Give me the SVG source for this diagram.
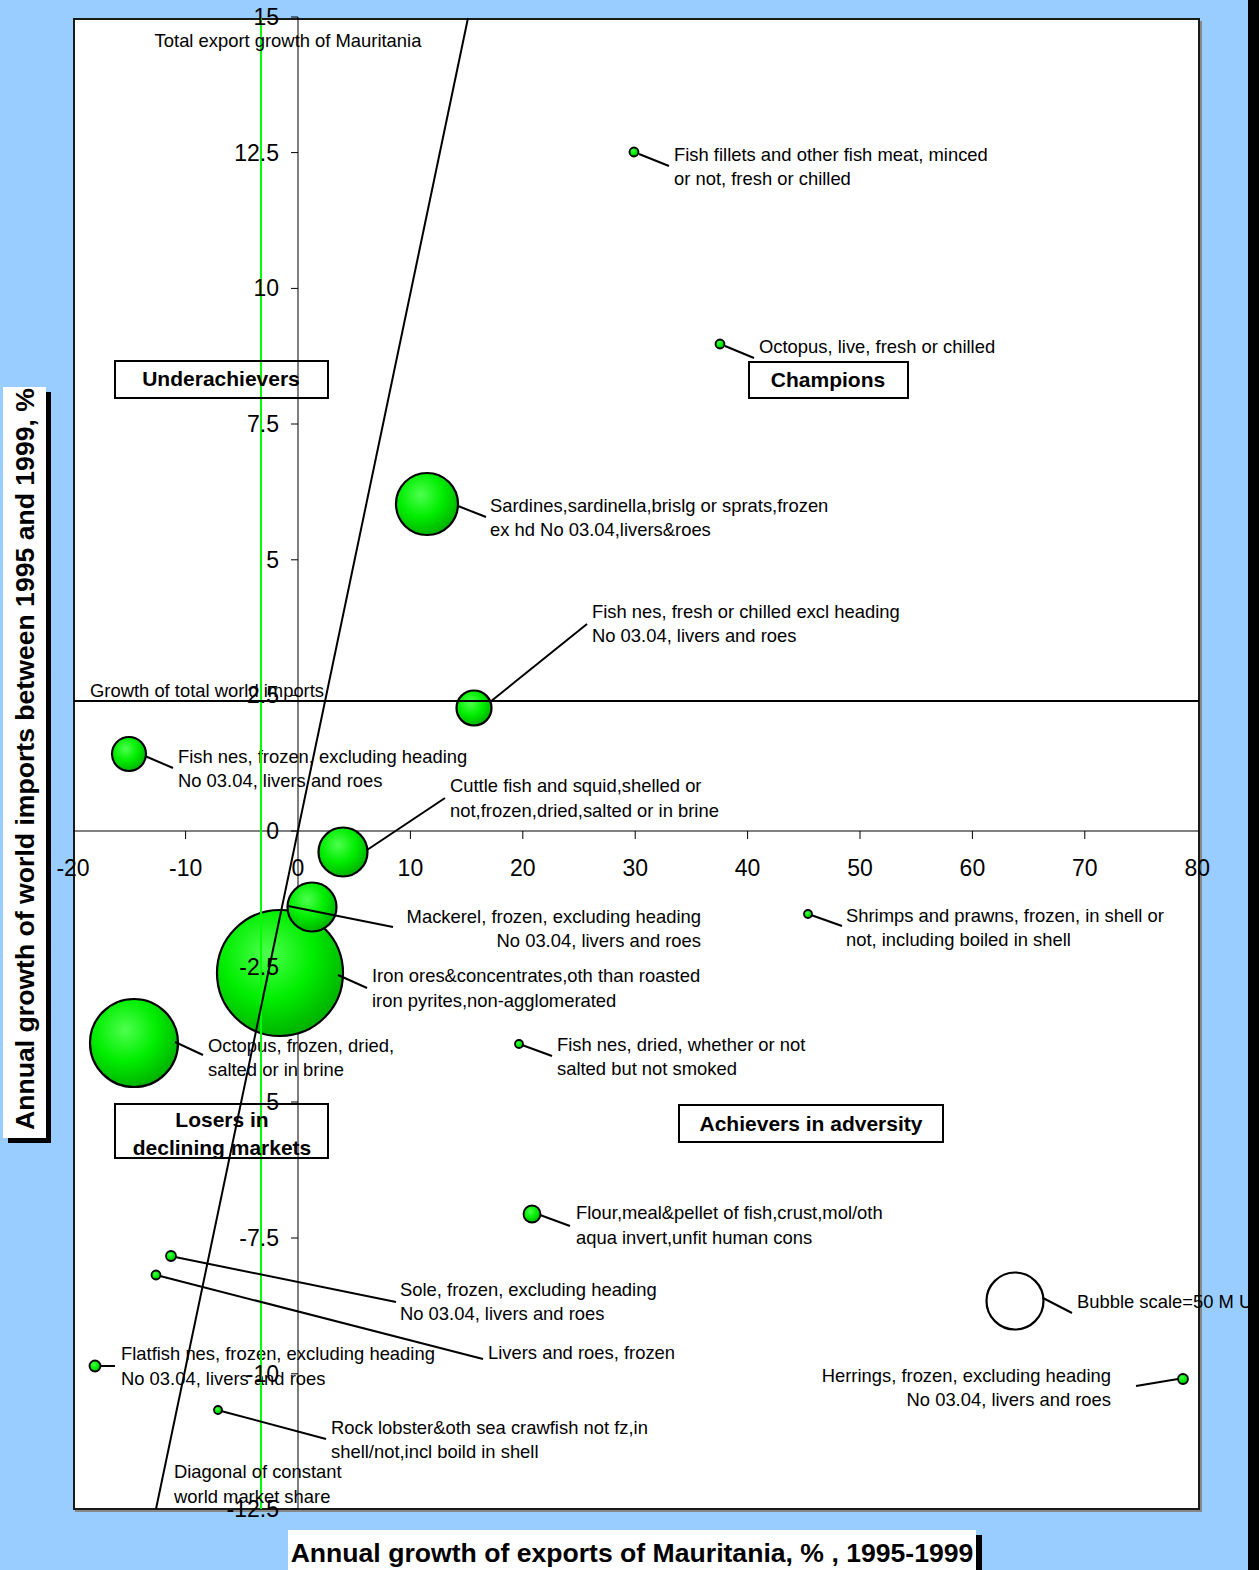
<svg xmlns="http://www.w3.org/2000/svg" width="1259" height="1570" viewBox="0 0 1259 1570">
<defs>
<radialGradient id="gb" cx="0.4" cy="0.35" r="0.65">
<stop offset="0" stop-color="#4dff4d"/>
<stop offset="0.55" stop-color="#00ee00"/>
<stop offset="1" stop-color="#00b400"/>
</radialGradient>
<style>
text{font-family:"Liberation Sans",Arial,sans-serif;fill:#000}
.lbl{font-size:18.4px}
.tky{font-size:23px;text-anchor:end}
.tkx{font-size:23px;text-anchor:middle}
.bx{fill:none;stroke:#000;stroke-width:2}
.bxt{font-size:21px;font-weight:bold;text-anchor:middle}
.ttl{font-size:26.6px;font-weight:bold;text-anchor:middle}
.bub{fill:url(#gb);stroke:#000;stroke-width:2.2}
.sm{fill:url(#gb);stroke:#000;stroke-width:1.8}
.ld{stroke:#000;stroke-width:2;fill:none}
.ax{stroke:#000;stroke-width:1;fill:none}
</style>
</defs>
<rect x="0" y="0" width="1259" height="1570" fill="#99ccff"/>
<rect x="1248" y="0" width="11" height="1570" fill="#000"/>
<g id="plot-area">
<rect x="75" y="21" width="1127" height="1491" fill="#888"/>
<rect x="74" y="19" width="1125" height="1490" fill="#fff" stroke="#1a1a1a" stroke-width="2"/>
</g>
<g id="axes">
<line class="ax" x1="298" y1="17" x2="298" y2="1509"/>
<line class="ax" x1="73" y1="831" x2="1199" y2="831"/>
<g class="ax">
<line x1="291" y1="17" x2="298" y2="17"/>
<line x1="291" y1="152.6" x2="298" y2="152.6"/>
<line x1="291" y1="288.4" x2="298" y2="288.4"/>
<line x1="291" y1="424" x2="298" y2="424"/>
<line x1="291" y1="559.8" x2="298" y2="559.8"/>
<line x1="291" y1="695.4" x2="298" y2="695.4"/>
<line x1="291" y1="831" x2="298" y2="831"/>
<line x1="291" y1="966.6" x2="298" y2="966.6"/>
<line x1="291" y1="1102" x2="298" y2="1102"/>
<line x1="291" y1="1238" x2="298" y2="1238"/>
<line x1="291" y1="1373.8" x2="298" y2="1373.8"/>
<line x1="291" y1="1509" x2="298" y2="1509"/>
<line x1="185.6" y1="831" x2="185.6" y2="839"/>
<line x1="410.4" y1="831" x2="410.4" y2="839"/>
<line x1="522.8" y1="831" x2="522.8" y2="839"/>
<line x1="635.2" y1="831" x2="635.2" y2="839"/>
<line x1="747.6" y1="831" x2="747.6" y2="839"/>
<line x1="860" y1="831" x2="860" y2="839"/>
<line x1="972.4" y1="831" x2="972.4" y2="839"/>
<line x1="1084.8" y1="831" x2="1084.8" y2="839"/>
</g>
</g>
<g id="n-fish-fillets"><circle class="sm" cx="634" cy="152" r="4.5"/><text class="lbl" x="674" y="161">Fish fillets and other fish meat, minced</text><text class="lbl" x="674" y="185">or not, fresh or chilled</text></g>
<g id="n-octopus-live"><circle class="sm" cx="720" cy="344" r="4.5"/><text class="lbl" x="759" y="353">Octopus, live, fresh or chilled</text></g>
<g id="n-sardines"><circle class="bub" cx="427" cy="504" r="31"/><text class="lbl" x="490" y="512">Sardines,sardinella,brislg or sprats,frozen</text><text class="lbl" x="490" y="536">ex hd No 03.04,livers&amp;roes</text></g>
<g id="n-fish-fresh"><circle class="bub" cx="474" cy="708" r="17.5"/><text class="lbl" x="592" y="618">Fish nes, fresh or chilled excl heading</text><text class="lbl" x="592" y="642">No 03.04, livers and roes</text></g>
<g id="n-fish-frozen"><circle class="bub" cx="129" cy="754" r="17"/><text class="lbl" x="178" y="763">Fish nes, frozen, excluding heading</text><text class="lbl" x="178" y="787">No 03.04, livers and roes</text></g>
<g id="n-cuttle"><circle class="bub" cx="343" cy="852" r="24.5"/><text class="lbl" x="450" y="792">Cuttle fish and squid,shelled or</text><text class="lbl" x="450" y="817">not,frozen,dried,salted or in brine</text></g>
<g id="n-iron"><circle class="bub" cx="280" cy="973" r="63"/><text class="lbl" x="372" y="982">Iron ores&amp;concentrates,oth than roasted</text><text class="lbl" x="372" y="1007">iron pyrites,non-agglomerated</text></g>
<g id="n-mackerel"><circle class="bub" cx="312" cy="907" r="24.5"/><text class="lbl" x="701" y="923" text-anchor="end">Mackerel, frozen, excluding heading</text><text class="lbl" x="701" y="947" text-anchor="end">No 03.04, livers and roes</text></g>
<g id="n-octopus-frozen"><circle class="bub" cx="134" cy="1043" r="44"/><text class="lbl" x="208" y="1052">Octopus, frozen, dried,</text><text class="lbl" x="208" y="1076">salted or in brine</text></g>
<g id="n-fish-dried"><circle class="sm" cx="519" cy="1044" r="4"/><text class="lbl" x="557" y="1051">Fish nes, dried, whether or not</text><text class="lbl" x="557" y="1075">salted but not smoked</text></g>
<g id="n-flour"><circle class="sm" cx="532" cy="1214" r="8.5"/><text class="lbl" x="576" y="1219">Flour,meal&amp;pellet of fish,crust,mol/oth</text><text class="lbl" x="576" y="1244">aqua invert,unfit human cons</text></g>
<g id="n-shrimps"><circle class="sm" cx="808" cy="914" r="4"/><text class="lbl" x="846" y="922">Shrimps and prawns, frozen, in shell or</text><text class="lbl" x="846" y="946">not, including boiled in shell</text></g>
<g id="n-sole"><circle class="sm" cx="171" cy="1256" r="5"/><text class="lbl" x="400" y="1296">Sole, frozen, excluding heading</text><text class="lbl" x="400" y="1320">No 03.04, livers and roes</text></g>
<g id="n-livers"><circle class="sm" cx="156" cy="1275" r="4.5"/><text class="lbl" x="488" y="1359">Livers and roes, frozen</text></g>
<g id="n-flatfish"><circle class="sm" cx="95" cy="1366" r="5.5"/><text class="lbl" x="121" y="1360">Flatfish nes, frozen, excluding heading</text><text class="lbl" x="121" y="1385">No 03.04, livers and roes</text></g>
<g id="n-rock-lobster"><circle class="sm" cx="218" cy="1410" r="4"/><text class="lbl" x="331" y="1434">Rock lobster&amp;oth sea crawfish not fz,in</text><text class="lbl" x="331" y="1458">shell/not,incl boild in shell</text></g>
<g id="n-herrings"><circle class="sm" cx="1183" cy="1379" r="5"/><text class="lbl" x="1111" y="1382" text-anchor="end">Herrings, frozen, excluding heading</text><text class="lbl" x="1111" y="1406" text-anchor="end">No 03.04, livers and roes</text></g>
<g id="n-bubble-scale"><circle cx="1015" cy="1301" r="28.5" fill="#fff" stroke="#000" stroke-width="2.2"/><text class="lbl" x="1077" y="1308">Bubble scale=50 M U</text></g>
<g id="reference-lines">
<line x1="261" y1="17" x2="261" y2="1509" stroke="#00ff00" stroke-width="2"/>
<line x1="468" y1="18" x2="156" y2="1509" stroke="#000" stroke-width="2"/>
<line x1="74" y1="701" x2="1199" y2="701" stroke="#000" stroke-width="2"/>
<text class="lbl" x="288" y="47" text-anchor="middle">Total export growth of Mauritania</text>
<text class="lbl" x="90" y="697">Growth of total world imports</text>
<text class="lbl" x="174" y="1478">Diagonal of constant</text>
<text class="lbl" x="174" y="1503">world market share</text>
</g>
<g id="connectors" class="ld">
<line x1="639" y1="154" x2="669" y2="166"/>
<line x1="725" y1="346" x2="754" y2="358"/>
<line x1="458" y1="506" x2="486" y2="517"/>
<line x1="490" y1="702" x2="587" y2="624"/>
<line x1="145" y1="756" x2="173" y2="768"/>
<line x1="367" y1="850" x2="445" y2="798"/>
<line x1="288" y1="906" x2="393" y2="927"/>
<line x1="338" y1="975" x2="367" y2="988"/>
<line x1="175" y1="1042" x2="203" y2="1055"/>
<line x1="522" y1="1045" x2="552" y2="1056"/>
<line x1="540" y1="1215" x2="570" y2="1226"/>
<line x1="811" y1="915" x2="842" y2="926"/>
<line x1="175" y1="1257" x2="396" y2="1302"/>
<line x1="160" y1="1276" x2="483" y2="1359"/>
<line x1="100" y1="1366" x2="115" y2="1366"/>
<line x1="221" y1="1411" x2="326" y2="1439"/>
<line x1="1178" y1="1379" x2="1136" y2="1386"/>
<line x1="1043" y1="1298" x2="1072" y2="1313"/>
</g>
<g id="tick-labels">
<text class="tky" x="279" y="25">15</text>
<text class="tky" x="279" y="161">12.5</text>
<text class="tky" x="279" y="296">10</text>
<text class="tky" x="279" y="432">7.5</text>
<text class="tky" x="279" y="568">5</text>
<text class="tky" x="279" y="703">2.5</text>
<text class="tky" x="279" y="839">0</text>
<text class="tky" x="279" y="975">-2.5</text>
<text class="tky" x="279" y="1110">-5</text>
<text class="tky" x="279" y="1246">-7.5</text>
<text class="tky" x="279" y="1382">-10</text>
<text class="tky" x="279" y="1517">-12.5</text>
<text class="tkx" x="73" y="876">-20</text>
<text class="tkx" x="185.6" y="876">-10</text>
<text class="tkx" x="298" y="876">0</text>
<text class="tkx" x="410.4" y="876">10</text>
<text class="tkx" x="522.8" y="876">20</text>
<text class="tkx" x="635.2" y="876">30</text>
<text class="tkx" x="747.6" y="876">40</text>
<text class="tkx" x="860" y="876">50</text>
<text class="tkx" x="972.4" y="876">60</text>
<text class="tkx" x="1084.8" y="876">70</text>
<text class="tkx" x="1197.2" y="876">80</text>
</g>
<g id="q-underachievers"><rect class="bx" x="115" y="361" width="213" height="37"/><text class="bxt" x="221" y="386">Underachievers</text></g>
<g id="q-champions"><rect class="bx" x="749" y="362" width="159" height="36"/><text class="bxt" x="828" y="387">Champions</text></g>
<g id="q-losers"><rect class="bx" x="115" y="1104" width="213" height="54"/><text class="bxt" x="222" y="1127">Losers in</text><text class="bxt" x="222" y="1155">declining markets</text></g>
<g id="q-achievers"><rect class="bx" x="679" y="1105" width="264" height="37"/><text class="bxt" x="811" y="1131">Achievers in adversity</text></g>
<g id="y-title">
<rect x="8" y="392" width="43" height="751" fill="#000"/>
<rect x="3" y="387" width="43" height="751" fill="#fff"/>
<text class="ttl" transform="translate(34 759) rotate(-90)">Annual growth of world imports between 1995 and 1999, %</text>
</g>
<g id="x-title">
<rect x="294" y="1535" width="688" height="40" fill="#000"/>
<rect x="288" y="1530" width="688" height="40" fill="#fff"/>
<text class="ttl" x="632" y="1562">Annual growth of exports of Mauritania, % , 1995-1999</text>
</g>
</svg>
